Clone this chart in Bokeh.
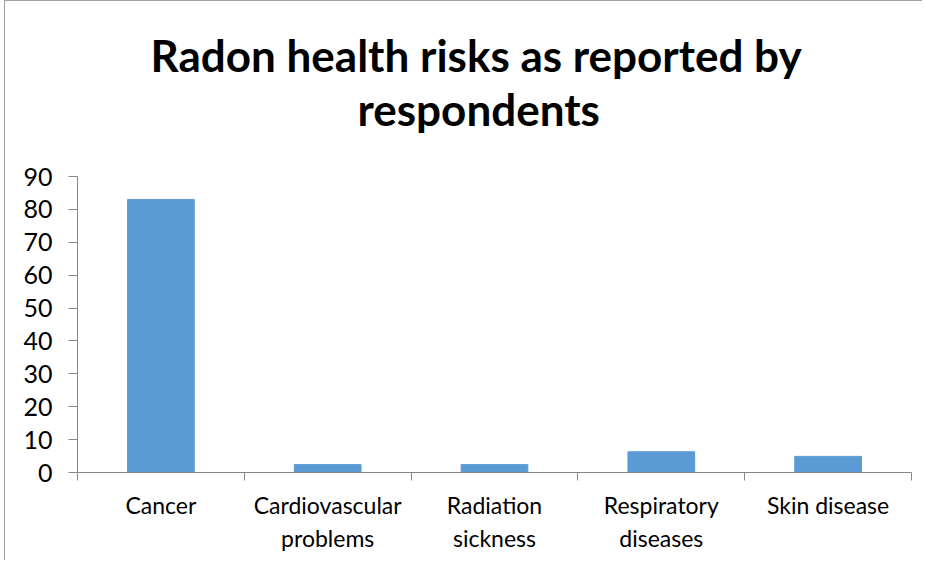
from bokeh.plotting import figure
from bokeh.models import FixedTicker, Range1d, Title
from bokeh.embed import file_html
from bokeh.resources import INLINE

categories = ["Cancer", "Cardiovascular problems", "Radiation sickness",
              "Respiratory diseases", "Skin disease"]
tick_labels = ["Cancer", "Cardiovascular\nproblems", "Radiation\nsickness",
               "Respiratory\ndiseases", "Skin disease"]
values = [83, 2.4, 2.4, 6.3, 4.9]
y_ticks = [0, 10, 20, 30, 40, 50, 60, 70, 80, 90]
title_lines = ["Radon health risks as reported by", "respondents"]

x_pos = [i + 0.5 for i in range(len(categories))]
boundaries = list(range(len(categories) + 1))

p = figure(width=918, height=560, output_backend="svg", toolbar_location=None,
           x_range=Range1d(0, len(categories)), y_range=Range1d(0, 90),
           min_border_left=72, min_border_right=12, min_border_top=175,
           min_border_bottom=89)

# blank spacer between the plot frame and the two title lines
p.add_layout(Title(text=" ", text_font="Lato", text_font_size="10px",
                   standoff=28), "above")

# inner line first (closest to the plot), then the outer line
title_offsets = [280, 73]
for line, off in zip(reversed(title_lines), title_offsets):
    t = Title(text=line, align="left", text_font="Lato", text_font_size="44px",
              text_font_style="bold", text_color="black", offset=off,
              standoff=0)
    p.add_layout(t, "above")

p.vbar(x=x_pos, top=values, width=0.4, color="#5B9BD5")

p.xgrid.visible = False
p.ygrid.visible = False
p.outline_line_color = None
p.background_fill_color = "white"
p.border_fill_color = "white"
p.styles = {"border-left": "1px solid #a0a0a0", "border-top": "1px solid #a0a0a0",
            "margin-left": "4px"}

xa = p.xaxis[0]
xa.ticker = FixedTicker(ticks=x_pos, minor_ticks=boundaries)
xa.major_label_overrides = {x: lab for x, lab in zip(x_pos, tick_labels)}
xa.major_tick_line_color = None
xa.minor_tick_line_color = "#868686"
xa.minor_tick_out = 8
xa.minor_tick_in = 0
xa.axis_line_color = "#868686"
xa.major_label_text_font = "Lato"
xa.major_label_text_font_size = "23px"
xa.major_label_text_color = "black"
xa.major_label_standoff = 10

ya = p.yaxis[0]
ya.ticker = FixedTicker(ticks=y_ticks, minor_ticks=[])
ya.major_tick_out = 9
ya.major_tick_in = 0
ya.major_tick_line_color = "#868686"
ya.axis_line_color = "#868686"
ya.major_label_text_font = "Lato"
ya.major_label_text_font_size = "25px"
ya.major_label_text_color = "black"
ya.major_label_standoff = 16

open("out.html", "w").write(file_html(p, INLINE))
